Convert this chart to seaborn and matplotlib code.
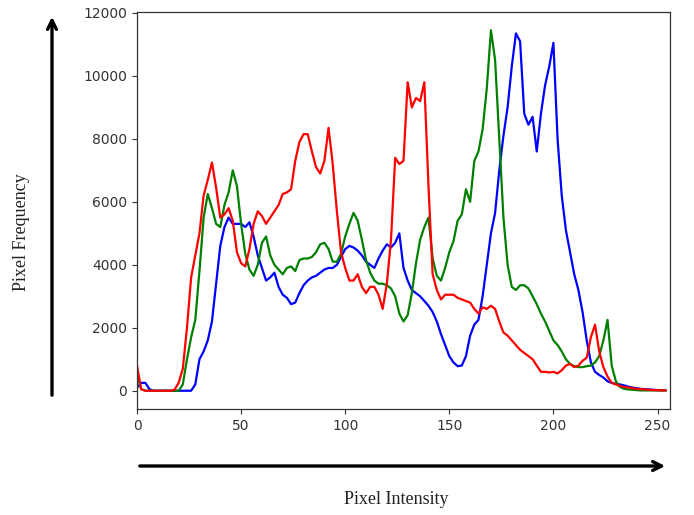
import numpy as np
import pandas as pd
import matplotlib
matplotlib.use('Agg')
import matplotlib.pyplot as plt
import seaborn as sns
from matplotlib.patches import FancyArrowPatch

# Pixel intensity bins (every 2nd intensity level)
intensity = list(range(0, 256, 2))

blue_counts = [
    100, 250, 250, 50, 0, 0, 0, 0, 0, 0,              # 0-18
    0, 0, 0, 0, 200, 1000, 1250, 1600, 2200, 3400,    # 20-38
    4600, 5200, 5500, 5300, 5300, 5300, 5200, 5350, 4900, 4300,  # 40-58
    3900, 3500, 3600, 3750, 3300, 3050, 2950, 2750, 2800, 3100,  # 60-78
    3350, 3500, 3600, 3650, 3750, 3850, 3900, 3900, 4000, 4250,  # 80-98
    4500, 4600, 4550, 4450, 4300, 4100, 4000, 3900, 4200, 4450,  # 100-118
    4650, 4550, 4700, 5000, 3900, 3500, 3200, 3100, 3000, 2850,  # 120-138
    2700, 2500, 2200, 1800, 1450, 1100, 900, 780, 800, 1100,     # 140-158
    1750, 2100, 2250, 3000, 4000, 5000, 5650, 7000, 8100, 9000,  # 160-178
    10300, 11350, 11100, 8800, 8450, 8700, 7600, 8800, 9700, 10300,  # 180-198
    11050, 8000, 6200, 5100, 4400, 3700, 3200, 2500, 1600, 900,  # 200-218
    600, 500, 420, 300, 250, 220, 200, 170, 130, 100,            # 220-238
    80, 60, 50, 40, 30, 20, 20, 10,                              # 240-254
]

green_counts = [
    500, 50, 0, 0, 0, 0, 0, 0, 0, 0,                  # 0-18
    0, 200, 1000, 1700, 2250, 3800, 5500, 6250, 5800, 5300,  # 20-38
    5200, 5900, 6300, 7000, 6500, 5300, 4350, 3850, 3650, 4000,  # 40-58
    4700, 4900, 4300, 4000, 3850, 3700, 3900, 3950, 3800, 4150,  # 60-78
    4200, 4200, 4250, 4400, 4650, 4700, 4500, 4100, 4100, 4350,  # 80-98
    4900, 5300, 5650, 5400, 4800, 4150, 3750, 3500, 3400, 3400,  # 100-118
    3350, 3250, 3000, 2450, 2200, 2400, 3100, 4050, 4800, 5200,  # 120-138
    5500, 4200, 3650, 3500, 3900, 4400, 4750, 5400, 5600, 6400,  # 140-158
    6000, 7300, 7600, 8300, 9600, 11450, 10500, 8000, 5500, 4000,  # 160-178
    3300, 3200, 3350, 3350, 3250, 3000, 2750, 2450, 2200, 1900,  # 180-198
    1600, 1450, 1250, 1000, 850, 780, 750, 750, 780, 800,        # 200-218
    900, 1100, 1600, 2250, 800, 300, 120, 60, 40, 30,            # 220-238
    20, 10, 10, 10, 10, 10, 10, 10,                              # 240-254
]

red_counts = [
    800, 50, 0, 0, 0, 0, 0, 0, 0, 30,                 # 0-18
    250, 700, 2000, 3600, 4300, 5000, 6200, 6700, 7250, 6450,  # 20-38
    5500, 5600, 5800, 5400, 4400, 4050, 3950, 4500, 5300, 5700,  # 40-58
    5550, 5300, 5500, 5700, 5900, 6250, 6300, 6400, 7300, 7900,  # 60-78
    8150, 8150, 7600, 7100, 6900, 7300, 8350, 7200, 5700, 4400,  # 80-98
    3900, 3500, 3500, 3700, 3300, 3100, 3300, 3300, 3050, 2600,  # 100-118
    3400, 4800, 7400, 7200, 7300, 9800, 9000, 9300, 9200, 9800,  # 120-138
    6500, 3700, 3200, 2900, 3050, 3050, 3050, 2950, 2900, 2850,  # 140-158
    2800, 2600, 2450, 2650, 2600, 2700, 2600, 2200, 1850, 1750,  # 160-178
    1600, 1450, 1300, 1200, 1100, 1000, 800, 600, 600, 580,      # 180-198
    600, 550, 650, 800, 850, 750, 800, 950, 1050, 1700,          # 200-218
    2100, 1250, 750, 450, 250, 200, 150, 120, 100, 80,           # 220-238
    60, 50, 40, 30, 20, 20, 10, 10,                              # 240-254
]

channels = ['b', 'g', 'r']
channel_colors = {'b': '#0000ff', 'g': '#008000', 'r': '#ff0000'}

df = pd.concat([
    pd.DataFrame({'intensity': intensity, 'count': blue_counts, 'channel': 'b'}),
    pd.DataFrame({'intensity': intensity, 'count': green_counts, 'channel': 'g'}),
    pd.DataFrame({'intensity': intensity, 'count': red_counts, 'channel': 'r'}),
])

sns.set_theme(style='ticks')
plt.rcParams['font.family'] = ['DejaVu Sans']

fig = plt.figure(figsize=(6.94, 5.15), dpi=100)
ax = fig.add_axes([137 / 694, 1 - 409 / 515, (670 - 137) / 694, (409 - 12) / 515])

sns.lineplot(data=df, x='intensity', y='count', hue='channel', hue_order=channels,
             palette=channel_colors, linewidth=1.6, legend=False, ax=ax)

ax.set_xlim(0, 256)
ax.set_ylim(-580, 12030)
ax.set_yticks([0, 2000, 4000, 6000, 8000, 10000, 12000])
ax.set_xticks([0, 50, 100, 150, 200, 250])
ax.set_xlabel('')
ax.set_ylabel('')
ax.tick_params(labelsize=10, colors='#333333', length=3.5, width=0.8)
for side in ['top', 'right', 'bottom', 'left']:
    ax.spines[side].set_visible(True)
    ax.spines[side].set_color('#333333')
    ax.spines[side].set_linewidth(0.9)

# Axis arrows drawn outside the plot area
up = FancyArrowPatch((52 / 694, 1 - 398 / 515), (52 / 694, 1 - 14 / 515),
                     transform=fig.transFigure, arrowstyle='->', mutation_scale=16,
                     lw=2.4, color='black')
right = FancyArrowPatch((137 / 694, 1 - 466 / 515), (668 / 694, 1 - 466 / 515),
                        transform=fig.transFigure, arrowstyle='->', mutation_scale=16,
                        lw=2.4, color='black')
fig.add_artist(up)
fig.add_artist(right)

fig.text(22 / 694, 1 - 232 / 515, 'Pixel Frequency', rotation=90, ha='center', va='center',
         fontsize=13, family=['Liberation Serif', 'DejaVu Serif'], color='#222222')
fig.text(396 / 694, 1 - 500 / 515, 'Pixel Intensity', ha='center', va='center',
         fontsize=13, family=['Liberation Serif', 'DejaVu Serif'], color='#222222')

fig.savefig('out.png', dpi=100, facecolor='white')
